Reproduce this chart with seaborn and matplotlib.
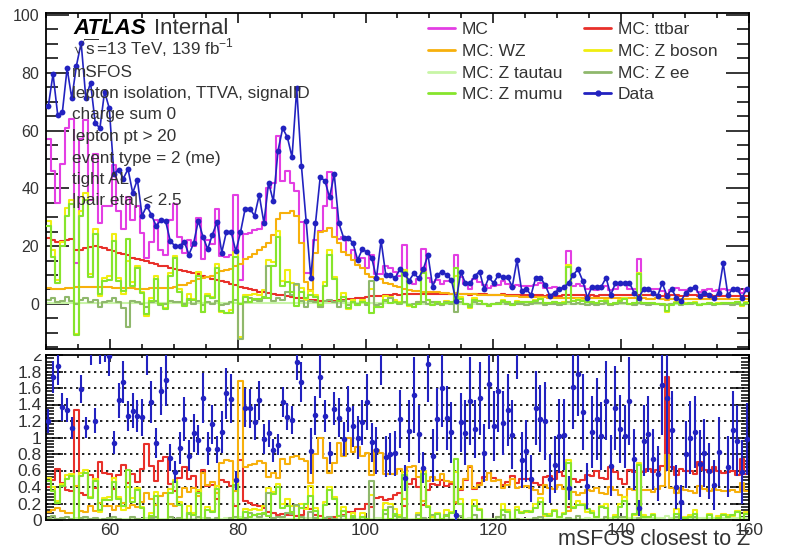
import numpy as np
import pandas as pd
import matplotlib
matplotlib.use("Agg")
import matplotlib.pyplot as plt
from matplotlib.lines import Line2D
from matplotlib.patches import Rectangle
from matplotlib.ticker import MultipleLocator, FuncFormatter
import seaborn as sns

# ---- binning -------------------------------------------------------------
X_MIN, X_MAX, N_BINS = 50.0, 160.0, 150

# ---- observed events per bin --------------------------------------------
data = [
    68.5, 79.6, 65.4, 66.5, 81.5, 71.2, 82.5, 90.4, 71.2, 76.6,
    62.7, 60.8, 73.5, 67.7, 45.0, 46.5, 43.4, 46.7, 38.4, 43.0,
    30.5, 34.0, 30.8, 27.0, 29.0, 28.8, 21.9, 20.0, 20.0, 21.5,
    17.1, 21.0, 28.8, 23.2, 19.0, 24.0, 28.3, 17.8, 25.0, 25.0,
    18.2, 24.8, 33.0, 33.0, 30.5, 37.7, 28.0, 42.0, 35.5, 53.0,
    60.8, 57.7, 50.8, 74.6, 47.8, 28.8, 8.9, 27.9, 43.8, 42.7,
    36.9, 44.9, 27.9, 22.9, 22.9, 21.0, 15.2, 19.0, 17.9, 16.0,
    8.9, 21.9, 10.0, 10.0, 8.9, 12.0, 10.3, 8.1, 10.6, 8.9,
    12.0, 17.0, 6.0, 10.0, 11.2, 10.0, 8.3, 1.0, 11.0, 7.2,
    7.2, 9.7, 11.2, 5.2, 9.2, 7.2, 10.0, 9.2, 9.2, 6.0,
    15.2, 4.5, 5.1, 3.1, 9.1, 9.1, 6.6, 2.8, 3.9, 5.1,
    5.8, 7.2, 10.0, 12.0, 8.1, 2.2, 6.0, 6.0, 6.0, 9.1,
    3.1, 7.2, 7.2, 7.2, 7.2, 3.9, 2.2, 5.1, 5.1, 3.9,
    2.8, 7.2, 2.8, 5.1, 2.2, 1.0, 3.9, 5.1, 6.0, 2.8,
    3.9, 3.1, 1.9, 3.9, 14.1, 3.1, 5.1, 5.1, 2.2, 5.1,
]

# ---- simulation: total and individual processes ---------------------------
mc_total = [
    57.0, 46.0, 35.0, 48.5, 61.0, 64.0, 14.0, 57.0, 63.5, 36.0,
    52.0, 28.0, 34.0, 34.0, 48.0, 32.0, 26.0, 37.0, 29.0, 34.0,
    24.5, 16.0, 21.5, 29.0, 18.6, 17.0, 29.0, 34.5, 23.0, 17.5,
    22.0, 20.0, 29.7, 15.7, 22.0, 20.7, 33.0, 16.6, 16.3, 17.0,
    37.8, 8.2, 24.3, 24.4, 25.6, 26.0, 28.5, 40.0, 42.0, 58.0,
    42.5, 46.0, 42.0, 39.0, 28.5, 10.7, 10.6, 22.0, 25.2, 33.8,
    45.7, 33.3, 22.5, 23.2, 17.0, 18.5, 15.2, 16.0, 12.5, 17.0,
    10.5, 10.5, 13.0, 12.5, 11.0, 9.8, 20.4, 7.5, 7.0, 8.5,
    18.9, 9.0, 7.7, 8.2, 7.0, 8.1, 7.8, 17.0, 9.3, 6.8,
    5.0, 8.8, 7.6, 6.4, 5.6, 6.3, 6.4, 7.8, 6.9, 5.8,
    6.6, 6.2, 6.1, 6.2, 6.7, 7.4, 5.5, 5.6, 5.8, 5.0,
    5.6, 18.4, 6.2, 6.8, 6.2, 5.3, 5.6, 4.9, 5.9, 6.3,
    4.7, 5.3, 6.5, 7.1, 5.0, 5.3, 15.5, 5.3, 4.9, 5.3,
    5.0, 4.4, 1.9, 4.7, 5.5, 4.7, 4.9, 5.1, 5.6, 4.1,
    4.8, 5.2, 4.5, 4.7, 5.1, 4.8, 4.7, 5.3, 3.8, 5.2,
]

ttbar = [
    22.8, 22.2, 21.6, 21.8, 22.3, 22.6, 18.6, 18.8, 19.2, 19.8,
    20.0, 19.6, 19.2, 18.8, 18.2, 17.6, 17.2, 16.8, 16.0, 15.6,
    15.2, 14.8, 14.2, 13.8, 13.3, 13.0, 12.6, 12.0, 11.6, 11.3,
    11.0, 10.6, 10.2, 9.6, 9.2, 8.8, 8.4, 8.0, 7.5, 7.0,
    6.6, 6.0, 5.5, 5.1, 4.7, 4.3, 4.0, 3.7, 3.5, 3.2,
    3.0, 2.7, 2.4, 2.1, 1.9, 1.6, 1.4, 1.3, 1.1, 1.0,
    1.0, 1.1, 1.2, 1.4, 1.6, 1.8, 2.0, 2.2, 2.4, 2.6,
    2.8, 2.9, 3.1, 3.2, 3.3, 3.2, 3.4, 3.3, 3.5, 3.4,
    3.4, 3.3, 3.4, 3.5, 3.4, 3.3, 3.4, 3.5, 3.4, 3.3,
    3.2, 3.3, 3.4, 3.3, 3.2, 3.2, 3.1, 3.3, 3.2, 3.1,
    3.0, 3.1, 3.0, 3.1, 3.0, 3.1, 2.9, 3.0, 2.9, 2.9,
    3.0, 3.0, 3.1, 3.1, 3.0, 2.9, 3.0, 2.9, 3.0, 3.1,
    3.0, 3.1, 3.2, 3.1, 3.0, 3.1, 3.0, 3.1, 3.0, 3.1,
    3.0, 2.9, 3.3, 3.0, 3.0, 2.9, 2.9, 3.0, 3.1, 2.9,
    2.9, 3.0, 2.9, 2.8, 2.9, 2.8, 2.8, 2.9, 2.8, 2.9,
]

wz = [
    5.4, 5.3, 5.2, 5.3, 5.4, 5.5, 5.8, 5.9, 6.0, 6.0,
    5.9, 5.8, 5.8, 5.7, 5.6, 5.5, 5.5, 5.4, 5.4, 5.3,
    5.3, 5.3, 5.4, 5.4, 5.4, 5.5, 5.6, 5.9, 6.4, 6.7,
    7.4, 7.8, 8.6, 9.0, 9.3, 9.6, 10.8, 11.4, 11.8, 12.2,
    13.2, 13.8, 15.6, 16.2, 17.4, 18.6, 19.8, 21.0, 24.0, 29.5,
    31.4, 31.4, 32.3, 30.4, 21.0, 7.7, 4.8, 17.6, 25.0, 25.3,
    26.2, 23.0, 21.0, 18.1, 17.0, 15.2, 13.5, 12.5, 10.2, 9.2,
    8.9, 8.5, 7.2, 6.9, 6.2, 6.0, 5.2, 4.8, 4.6, 4.4,
    4.3, 4.2, 4.0, 4.0, 3.9, 3.8, 3.6, 3.7, 3.5, 3.4,
    3.3, 3.4, 3.2, 3.1, 3.2, 3.0, 3.1, 3.0, 2.9, 2.9,
    2.6, 2.5, 2.5, 2.4, 2.4, 2.3, 2.3, 2.2, 2.2, 2.1,
    2.1, 2.0, 2.1, 2.1, 2.0, 1.9, 2.0, 1.9, 1.9, 2.0,
    1.9, 1.9, 2.0, 2.0, 1.9, 1.9, 1.8, 1.9, 1.8, 1.8,
    1.9, 1.8, 1.5, 1.8, 1.8, 1.8, 1.8, 1.8, 1.8, 1.7,
    1.8, 1.8, 1.7, 1.7, 1.8, 1.7, 1.7, 1.8, 1.7, 1.8,
]

z_boson = [
    28.8, 18.5, 8.2, 21.4, 33.3, 35.9, -10.4, 32.3, 38.3, 10.2,
    26.1, 2.6, 9.0, 9.5, 24.2, 8.9, 3.3, 14.8, 7.6, 13.1,
    4.0, -4.1, 1.9, 9.8, -0.1, -1.5, 10.8, 16.6, 5.0, -0.5,
    3.6, 1.6, 10.9, -2.9, 3.5, 2.3, 13.8, -2.8, -3.0, -2.2,
    18.0, -11.6, 3.2, 3.1, 3.5, 3.1, 4.7, 15.3, 14.5, 25.3,
    8.1, 11.9, 7.3, 6.5, 5.6, 1.4, 4.4, 3.1, -0.9, 7.5,
    18.5, 9.2, 0.3, 3.7, -1.6, 1.5, -0.3, 1.3, -0.1, 5.2,
    -1.2, -0.9, 2.7, 2.4, 1.5, 0.6, 11.8, -0.6, -1.1, 0.7,
    11.2, 1.5, 0.3, 0.7, -0.3, 1.0, 0.8, 9.8, 2.4, 0.1,
    -1.5, 2.1, 1.0, 0.0, -0.8, 0.1, 0.2, 1.5, 0.8, -0.2,
    1.0, 0.6, 0.6, 0.7, 1.3, 2.0, 0.3, 0.4, 0.7, 0.0,
    0.5, 13.4, 1.0, 1.6, 1.2, 0.5, 0.6, 0.1, 1.0, 1.2,
    -0.2, 0.3, 1.3, 2.0, 0.1, 0.3, 10.7, 0.3, 0.1, 0.4,
    0.1, -0.3, -2.9, -0.1, 0.7, 0.0, 0.2, 0.3, 0.7, -0.5,
    0.1, 0.4, -0.1, 0.2, 0.4, 0.3, 0.2, 0.6, -0.7, 0.5,
]

z_tautau = [
    0.3, 0.3, 0.4, 0.3, 0.3, 0.4, 0.3, 0.3, 0.4, 0.3,
    0.3, 0.3, 0.4, 0.3, 0.3, 0.3, 0.4, 0.3, 0.3, 0.3,
    0.3, 0.3, 0.3, 0.3, 0.3, 0.3, 0.3, 0.3, 0.3, 0.3,
    0.3, 0.3, 0.3, 0.3, 0.3, 0.3, 0.3, 0.3, 0.3, 0.3,
    0.3, 0.3, 0.3, 0.3, 0.3, 0.3, 0.3, 0.3, 0.3, 0.3,
    0.3, 0.3, 0.3, 0.3, 0.3, 0.3, 0.3, 0.3, 0.3, 0.3,
    0.2, 0.2, 0.2, 0.2, 0.2, 0.2, 0.2, 0.2, 0.2, 0.2,
    0.2, 0.2, 0.2, 0.2, 0.2, 0.2, 0.2, 0.1, 0.1, 0.1,
    0.1, 0.1, 0.1, 0.1, 0.1, 0.1, 0.1, 0.1, 0.1, 0.1,
    0.1, 0.1, 0.1, 0.1, 0.1, 0.1, 0.1, 0.1, 0.1, 0.1,
    0.1, 0.1, 0.1, 0.1, 0.1, 0.1, 0.1, 0.1, 0.1, 0.1,
    0.1, 0.1, 0.1, 0.1, 0.1, 0.1, 0.1, 0.1, 0.1, 0.1,
    0.1, 0.1, 0.1, 0.1, 0.1, 0.1, 0.1, 0.1, 0.1, 0.1,
    0.1, 0.1, 0.1, 0.1, 0.1, 0.1, 0.1, 0.1, 0.1, 0.1,
    0.1, 0.1, 0.1, 0.1, 0.1, 0.1, 0.1, 0.1, 0.1, 0.1,
]

z_ee = [
    1.5, 2.0, 0.5, 1.0, 2.5, 1.0, 0.0, 1.5, 2.0, 0.5,
    1.5, -1.0, 0.5, 1.0, 2.0, 0.5, -1.5, -8.0, 1.0, 0.5,
    0.0, -1.0, 0.5, 1.0, -0.5, 0.0, 1.0, 0.5, 0.5, 0.0,
    1.5, 0.0, 1.0, -0.5, 0.5, 0.0, 1.0, -0.5, 0.0, 0.5,
    1.5, -12.0, 0.5, 2.0, 1.5, 1.0, 2.0, 13.0, 1.0, 2.0,
    1.5, 4.0, 3.0, 7.0, 1.0, -1.0, 1.0, 0.5, -1.0, 1.0,
    1.5, 0.5, -1.0, 1.0, -0.5, 0.5, 0.0, 0.5, -0.5, 8.0,
    -0.5, 0.0, 1.0, 2.0, 0.5, 0.0, 0.5, -0.5, 0.0, 0.5,
    0.5, 0.0, 0.5, 0.0, -0.5, 0.5, 0.0, -2.8, 0.5, 0.0,
    -0.5, 0.5, 0.0, 0.0, -0.3, 0.0, 0.2, 0.5, 0.0, 0.0,
    0.1, 0.0, -0.2, 0.0, 0.2, 0.3, -0.2, 0.0, 0.0, -0.3,
    0.0, 0.5, 0.0, 0.3, 0.0, -0.3, 0.0, -0.2, 0.0, 0.2,
    -0.3, 0.0, 0.2, 0.3, 0.0, -0.2, 0.3, 0.0, -0.2, 0.0,
    0.0, -0.3, -0.4, 0.0, 0.2, -0.2, 0.0, 0.0, 0.2, -0.3,
    0.0, 0.0, -0.2, 0.0, 0.0, 0.0, -0.2, 0.0, -0.3, 0.0,
]

z_mumu = [
    27.0, 16.2, 7.3, 20.1, 30.5, 34.5, -10.7, 30.5, 35.9, 9.4,
    24.3, 3.3, 8.1, 8.2, 21.9, 8.1, 4.4, 22.5, 6.3, 12.3,
    3.7, -3.4, 1.1, 8.5, 0.1, -1.8, 9.5, 15.8, 4.2, -0.8,
    1.8, 1.3, 9.6, -2.7, 2.7, 2.0, 12.5, -2.6, -3.3, -3.0,
    16.2, 0.1, 2.4, 0.8, 1.7, 1.8, 2.4, 2.0, 13.2, 23.0,
    6.3, 7.6, 4.0, -0.8, 4.3, 2.1, 3.1, 2.3, -0.2, 6.2,
    16.8, 8.5, 1.1, 2.5, -1.3, 0.8, -0.5, 0.6, 0.2, -3.0,
    -0.9, -1.1, 1.5, 0.2, 0.8, 0.4, 11.1, -0.2, -1.2, 0.1,
    10.6, 1.4, -0.3, 0.6, 0.1, 0.4, 0.7, 12.5, 1.8, 0.0,
    -1.1, 1.5, 0.9, -0.1, -0.6, 0.0, -0.1, 0.9, 0.7, -0.3,
    0.8, 0.5, 0.7, 0.6, 1.0, 1.6, 0.4, 0.3, 0.6, 0.2,
    0.4, 12.8, 0.9, 1.2, 1.1, 0.7, 0.5, 0.2, 0.9, 0.9,
    0.0, 0.2, 1.0, 1.6, 0.0, 0.4, 10.3, 0.2, 0.2, 0.3,
    0.0, -0.1, -2.6, -0.2, 0.4, 0.1, 0.1, 0.2, 0.4, -0.3,
    0.0, 0.3, 0.0, 0.1, 0.3, 0.2, 0.3, 0.5, -0.5, 0.4,
]

# ---- appearance ----------------------------------------------------------
COLORS = {
    "MC": "#e33ee3",
    "MC: ttbar": "#e8302a",
    "MC: WZ": "#f7b00c",
    "MC: Z boson": "#f0ee10",
    "MC: Z tautau": "#c8f5a6",
    "MC: Z ee": "#8fb86c",
    "MC: Z mumu": "#86e52c",
    "Data": "#2222c0",
}
TEXT = "#333333"

sns.set_style("ticks")
plt.rcParams["font.family"] = ["Liberation Sans", "DejaVu Sans"]
plt.rcParams["mathtext.fontset"] = "custom"
plt.rcParams["mathtext.rm"] = "Liberation Sans"
plt.rcParams["mathtext.it"] = "Liberation Sans:italic"
plt.rcParams["mathtext.bf"] = "Liberation Sans:bold"

W, H = 785, 550
fig = plt.figure(figsize=(W / 100, H / 100), dpi=100)


def px_box(left, top, right, bottom):
    return [left / W, 1 - bottom / H, (right - left) / W, (bottom - top) / H]


ax_lo = fig.add_axes(px_box(46, 355, 749, 520))
ax_top = fig.add_axes(px_box(46, 13, 749, 349))
ax_top.set_zorder(2)
ax_lo.set_zorder(0)
# upper pad background hides anything of the lower pad that pokes above it
fig.add_artist(Rectangle((0, (H - 354) / H), 1, 354 / H, transform=fig.transFigure,
                         facecolor="white", edgecolor="none", zorder=1))

edges = np.linspace(X_MIN, X_MAX, N_BINS + 1)
centers = 0.5 * (edges[:-1] + edges[1:])
bin_edges = [float(e) for e in edges]

series = [
    ("MC", mc_total),
    ("MC: ttbar", ttbar),
    ("MC: WZ", wz),
    ("MC: Z boson", z_boson),
    ("MC: Z tautau", z_tautau),
    ("MC: Z ee", z_ee),
    ("MC: Z mumu", z_mumu),
]


def step_hist(ax, values, color, z):
    frame = pd.DataFrame({"x": centers, "w": np.asarray(values, dtype=float)})
    sns.histplot(data=frame, x="x", weights="w", bins=bin_edges, element="step",
                 fill=False, color=color, linewidth=1.5, ax=ax, zorder=z)


# ---- upper pad: yields ---------------------------------------------------
for k, (name, vals) in enumerate(series):
    step_hist(ax_top, vals, COLORS[name], 2 + k * 0.1)

data_frame = pd.DataFrame({"x": centers, "y": data})
sns.lineplot(data=data_frame, x="x", y="y", color=COLORS["Data"], marker="o",
             markersize=4.2, markeredgewidth=0, markeredgecolor=COLORS["Data"],
             linewidth=1.2, estimator=None, sort=False, ax=ax_top, zorder=5)

ax_top.set_xlim(X_MIN, X_MAX)
ax_top.set_ylim(-15.6, 100.7)
ax_top.xaxis.set_major_locator(MultipleLocator(20))
ax_top.xaxis.set_minor_locator(MultipleLocator(5))
ax_top.yaxis.set_major_locator(MultipleLocator(20))
ax_top.yaxis.set_minor_locator(MultipleLocator(5))
ax_top.tick_params(which="both", direction="in", top=True, right=True,
                   labelbottom=False, width=1.1, color="black")
ax_top.tick_params(axis="x", which="major", length=7)
ax_top.tick_params(axis="x", which="minor", length=3.6)
ax_top.tick_params(axis="y", which="major", length=16.5, labelsize=11.5,
                   labelcolor=TEXT, pad=5)
ax_top.tick_params(axis="y", which="minor", length=8.5)
ax_top.set_xlabel("")
ax_top.set_ylabel("")

# ---- lower pad: ratios and fractions ------------------------------------
mc_arr = np.asarray(mc_total)
data_arr = np.asarray(data)
for k, (name, vals) in enumerate(series[1:]):
    step_hist(ax_lo, np.asarray(vals) / mc_arr, COLORS[name], 2 + k * 0.1)

ratio = data_arr / mc_arr
ratio_err = np.sqrt(data_arr) / mc_arr
ax_lo.errorbar(centers, ratio, yerr=ratio_err, fmt="none", ecolor=COLORS["Data"],
               elinewidth=1.5, capsize=0, zorder=5)
ratio_frame = pd.DataFrame({"x": centers, "r": ratio})
sns.scatterplot(data=ratio_frame, x="x", y="r", color=COLORS["Data"], s=16, linewidth=0,
                ax=ax_lo, zorder=6)

for level in np.arange(0.2, 1.81, 0.2):
    ax_lo.axhline(level, color="black", linestyle=(0, (1.4, 2.2)), linewidth=1.2, zorder=1)

ax_lo.set_xlim(X_MIN, X_MAX)
ax_lo.set_ylim(0, 2)
ax_lo.xaxis.set_major_locator(MultipleLocator(20))
ax_lo.xaxis.set_minor_locator(MultipleLocator(5))
ax_lo.yaxis.set_major_locator(MultipleLocator(0.2))
ax_lo.yaxis.set_minor_locator(MultipleLocator(0.04))
fmt = FuncFormatter(lambda v, _: f"{v:g}")
ax_lo.xaxis.set_major_formatter(fmt)
ax_lo.yaxis.set_major_formatter(fmt)
ax_lo.tick_params(which="both", direction="in", top=True, right=True, width=1.1,
                  color="black", labelsize=12.5, labelcolor=TEXT)
ax_lo.tick_params(axis="x", which="major", length=5, pad=2)
ax_lo.tick_params(axis="x", which="minor", length=2.5)
ax_lo.tick_params(axis="y", which="major", length=12, pad=3)
ax_lo.tick_params(axis="y", which="minor", length=6)
ax_lo.set_xlabel("")
ax_lo.set_ylabel("")

for ax in (ax_top, ax_lo):
    for sp in ax.spines.values():
        sp.set_linewidth(1.3)
        sp.set_color("black")

# ---- legend ---------------------------------------------------------------
order = ["MC", "MC: WZ", "MC: Z tautau", "MC: Z mumu",
         "MC: ttbar", "MC: Z boson", "MC: Z ee", "Data"]
handles = []
for name in order:
    if name == "Data":
        handles.append(Line2D([], [], color=COLORS[name], lw=2, marker="o", markersize=3.5))
    else:
        handles.append(Line2D([], [], color=COLORS[name], lw=2))
leg = ax_top.legend(handles, order, ncol=2, loc="upper left",
                    bbox_to_anchor=(428 / W, 1 - 22 / H), bbox_transform=fig.transFigure,
                    frameon=False, fontsize=12.5, handlelength=1.55, handletextpad=0.4,
                    columnspacing=1.25, labelspacing=0.38, borderpad=0, borderaxespad=0)
for t in leg.get_texts():
    t.set_color(TEXT)

# ---- labels ---------------------------------------------------------------
fig.text(73 / W, 1 - 34 / H, "ATLAS", fontsize=16, fontweight="bold", fontstyle="italic",
         color="black", va="baseline", zorder=10)
fig.text(154 / W, 1 - 34 / H, "Internal", fontsize=16, color=TEXT, va="baseline", zorder=10)

info_lines = [
    r"$\sqrt{\mathrm{s}}$=13 TeV, 139 fb$^{\mathrm{-1}}$",
    "mSFOS",
    "lepton isolation, TTVA, signalID",
    "charge sum 0",
    "lepton pt > 20",
    "event type = 2 (me)",
    "tight AL",
    "|pair eta| < 2.5",
]
for k, line in enumerate(info_lines):
    fig.text(72 / W, 1 - (55 + 21.5 * k) / H, line, fontsize=12.3, color=TEXT,
             va="baseline", zorder=10)

fig.text(750 / W, 1 - 545 / H, "mSFOS closest to Z", fontsize=15.5, color=TEXT,
         ha="right", va="baseline", zorder=10)

fig.savefig("out.png", dpi=100)
